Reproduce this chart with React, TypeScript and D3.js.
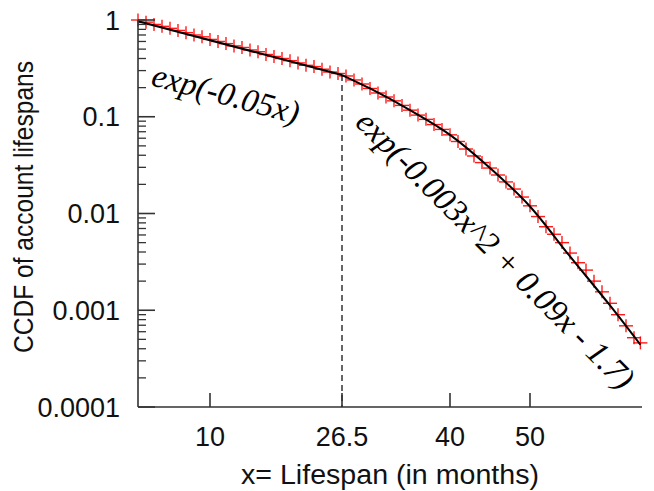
import React from "react";
import * as d3 from "d3";

const months = [1,2,3,4,5,6,7,8,9,10,11,12,13,14,15,16,17,18,19,20,21,22,23,24,25,26,27,28,29,30,31,32,33,34,35,36,37,38,39,40,41,42,43,44,45,46,47,48,49,50,51,52,53,54,55,56,57,58,59,60,61,62,63,63.8];
const ccdf = [1.0,0.95,0.90,0.86,0.82,0.78,0.74,0.70,0.67,0.63,0.60,0.57,0.54,0.52,0.49,0.47,0.44,0.42,0.40,0.38,0.36,0.34,0.33,0.31,0.29,0.28,
  0.264,0.240,0.218,0.196,0.176,0.160,0.146,0.131,0.117,0.104,0.094,0.083,0.074,0.065,0.0555,0.0464,0.0393,0.0336,0.0295,0.0250,0.0212,0.0179,0.0148,
  0.0120,0.0093,0.0073,0.0061,0.0050,0.0039,0.0031,0.0026,0.0020,0.00155,0.00118,0.00090,0.00069,0.00052,0.00046];

const fit1Months = [1, 26.5];
const fit1Values = [0.97, 0.27];
const fit2Months = [26.5, 30, 35, 40, 45, 50, 55, 60, 63.8];
const fit2Values = [0.27, 0.196, 0.117, 0.065, 0.0295, 0.0118, 0.0036, 0.00112, 0.00044];

const breakMonth = 26.5;
const breakValue = 0.27;

const xTicks = [10, 26.5, 40, 50];
const xTickLabels = ["10", "26.5", "40", "50"];
const yTicks = [1, 0.1, 0.01, 0.001, 0.0001];
const yTickLabels = ["1", "0.1", "0.01", "0.001", "0.0001"];

const xLabel = "x= Lifespan (in months)";
const yLabel = "CCDF of account lifespans";
const note1 = "exp(-0.05x)";
const note2 = "exp(-0.003x^2 + 0.09x - 1.7)";

export default function App() {
  const W = 654, H = 491;
  const x = d3.scaleLinear().domain([1, 64]).range([138, 642]);
  const y = d3.scaleLog().domain([0.0001, 1]).range([407, 20]);

  const minor: number[] = [];
  for (let e = -4; e < 0; e++) {
    for (let k = 2; k <= 9; k++) minor.push(k * Math.pow(10, e));
  }

  const line1 = d3.line<number>().x((_, i) => x(fit1Months[i])).y((d) => y(d));
  const line2 = d3.line<number>().x((_, i) => x(fit2Months[i])).y((d) => y(d)).curve(d3.curveMonotoneX);

  const axisColor = "#333";
  const sans = "'Liberation Sans', Arial, sans-serif";
  const serif = "'Liberation Serif', 'Times New Roman', serif";

  return (
    <svg width={W} height={H} style={{ position: "absolute", left: 0, top: 0, background: "#fff" }}>
      <g stroke="#ff0000" strokeWidth={1.4} strokeOpacity={0.9}>
        {months.map((m, i) => {
          const cx = x(m), cy = y(ccdf[i]);
          return (
            <g key={i}>
              <line x1={cx - 7} x2={cx + 7} y1={cy} y2={cy} />
              <line x1={cx} x2={cx} y1={cy - 6.5} y2={cy + 6.5} />
            </g>
          );
        })}
      </g>
      <path d={line1(fit1Values) || ""} fill="none" stroke="#000" strokeWidth={2} />
      <path d={line2(fit2Values) || ""} fill="none" stroke="#000" strokeWidth={2} />
      <line x1={x(breakMonth)} x2={x(breakMonth)} y1={y(breakValue)} y2={y(0.0001)} stroke="#000" strokeWidth={1.2} strokeDasharray="6,4" />
      <line x1={x(1)} x2={x(1)} y1={y(1)} y2={y(0.0001)} stroke={axisColor} strokeWidth={1.6} />
      <line x1={x(1)} x2={x(64)} y1={y(0.0001)} y2={y(0.0001)} stroke={axisColor} strokeWidth={1.6} />
      {yTicks.map((t, i) => (
        <g key={"yt" + i}>
          <line x1={x(1)} x2={x(1) + 17} y1={y(t)} y2={y(t)} stroke={axisColor} strokeWidth={1.6} />
          <text x={120} y={y(t)} dy="0.36em" textAnchor="end" fontFamily={sans} fontSize={27} fill="#111">{yTickLabels[i]}</text>
        </g>
      ))}
      {minor.map((t, i) => (
        <line key={"ym" + i} x1={x(1)} x2={x(1) + 8} y1={y(t)} y2={y(t)} stroke={axisColor} strokeWidth={1.3} />
      ))}
      {xTicks.map((t, i) => (
        <g key={"xt" + i}>
          <line x1={x(t)} x2={x(t)} y1={y(0.0001)} y2={y(0.0001) - 14} stroke={axisColor} strokeWidth={1.6} />
          <text x={x(t)} y={446} textAnchor="middle" fontFamily={sans} fontSize={27} fill="#111">{xTickLabels[i]}</text>
        </g>
      ))}
      <text x={390} y={484} textAnchor="middle" fontFamily={sans} fontSize={27} fill="#111" textLength={298} lengthAdjust="spacingAndGlyphs">{xLabel}</text>
      <text transform="translate(33,207) rotate(-90)" textAnchor="middle" fontFamily={sans} fontSize={27} fill="#111" textLength={292} lengthAdjust="spacingAndGlyphs">{yLabel}</text>
      <text transform="translate(150,85) rotate(15)" fontFamily={serif} fontStyle="italic" fontSize={33} fill="#000">{note1}</text>
      <text transform="translate(354,124) rotate(45)" fontFamily={serif} fontStyle="italic" fontSize={33} fill="#000">{note2}</text>
    </svg>
  );
}
